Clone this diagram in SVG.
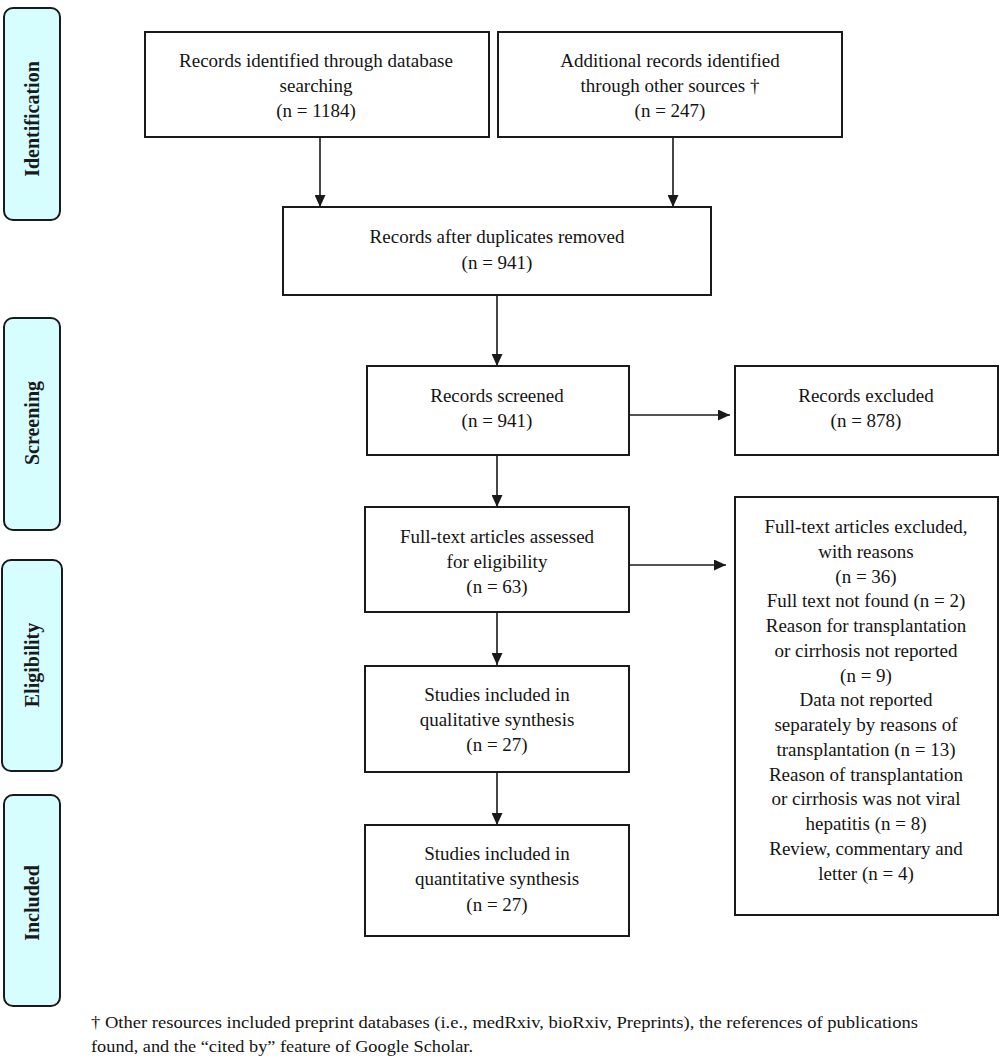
<svg xmlns="http://www.w3.org/2000/svg" width="1000" height="1061" viewBox="0 0 1000 1061">
<defs>
<style>
.box{fill:#fff;stroke:#1a1a1a;stroke-width:2}
.side{fill:#d6fdff;stroke:#1a1a1a;stroke-width:2}
.t{font-family:"Liberation Serif","DejaVu Serif",serif;font-size:19px;fill:#141414;text-anchor:middle}
.st{font-family:"Liberation Serif","DejaVu Serif",serif;font-size:20px;font-weight:bold;fill:#1a1a1a;text-anchor:middle}
.fn{font-family:"Liberation Serif","DejaVu Serif",serif;font-size:17px;fill:#141414}
.c{stroke:#1a1a1a;stroke-width:1.6;fill:none;marker-end:url(#ah)}
</style>
<marker id="ah" viewBox="0 0 10 10" refX="10" refY="5" markerWidth="12" markerHeight="11" markerUnits="userSpaceOnUse" orient="auto" preserveAspectRatio="none">
<path d="M0,0 L10,5 L0,10 Z" fill="#1a1a1a"/>
</marker>
</defs>
<rect width="1000" height="1061" fill="#fff"/>

<g id="side-identification"><rect class="side" x="4" y="8" width="56" height="212" rx="9"/><text class="st" transform="translate(39,119) rotate(-90)">Identification</text></g>
<g id="side-screening"><rect class="side" x="4" y="318" width="56" height="212" rx="9"/><text class="st" transform="translate(39,423) rotate(-90)">Screening</text></g>
<g id="side-eligibility"><rect class="side" x="2" y="560" width="60" height="211" rx="9"/><text class="st" transform="translate(39,665) rotate(-90)">Eligibility</text></g>
<g id="side-included"><rect class="side" x="4" y="795" width="56" height="211" rx="9"/><text class="st" transform="translate(39,903) rotate(-90)">Included</text></g>

<g id="connectors">
<line class="c" x1="320" y1="137" x2="320" y2="207"/>
<line class="c" x1="673" y1="137" x2="673" y2="207"/>
<line class="c" x1="497" y1="295" x2="497" y2="366"/>
<line class="c" x1="629" y1="415" x2="730" y2="415"/>
<line class="c" x1="497" y1="455" x2="497" y2="507"/>
<line class="c" x1="629" y1="565" x2="726" y2="565"/>
<line class="c" x1="497" y1="612" x2="497" y2="665"/>
<line class="c" x1="497" y1="772" x2="497" y2="825"/>
</g>

<g id="n-database"><rect class="box" x="145" y="32" width="344" height="105"/>
<text class="t" x="316" y="67">Records identified through database</text>
<text class="t" x="316" y="92">searching</text>
<text class="t" x="316" y="117">(n = 1184)</text></g>

<g id="n-other"><rect class="box" x="498" y="32" width="344" height="105"/>
<text class="t" x="670" y="67">Additional records identified</text>
<text class="t" x="670" y="92">through other sources †</text>
<text class="t" x="670" y="117">(n = 247)</text></g>

<g id="n-dup"><rect class="box" x="283" y="207" width="428" height="88"/>
<text class="t" x="497" y="243">Records after duplicates removed</text>
<text class="t" x="497" y="269">(n = 941)</text></g>

<g id="n-screened"><rect class="box" x="367" y="366" width="262" height="89"/>
<text class="t" x="497" y="402">Records screened</text>
<text class="t" x="497" y="427">(n = 941)</text></g>

<g id="n-excluded"><rect class="box" x="735" y="366" width="263" height="89"/>
<text class="t" x="866" y="402">Records excluded</text>
<text class="t" x="866" y="427">(n = 878)</text></g>

<g id="n-fulltext"><rect class="box" x="365" y="507" width="264" height="105"/>
<text class="t" x="497" y="543">Full-text articles assessed</text>
<text class="t" x="497" y="568">for eligibility</text>
<text class="t" x="497" y="593">(n = 63)</text></g>

<g id="n-ftexcluded"><rect class="box" x="735" y="497" width="263" height="418"/>
<text class="t" x="866" y="533">Full-text articles excluded,</text>
<text class="t" x="866" y="558">with reasons</text>
<text class="t" x="866" y="583">(n = 36)</text>
<text class="t" x="866" y="607">Full text not found (n = 2)</text>
<text class="t" x="866" y="632">Reason for transplantation</text>
<text class="t" x="866" y="657">or cirrhosis not reported</text>
<text class="t" x="866" y="682">(n = 9)</text>
<text class="t" x="866" y="706">Data not reported</text>
<text class="t" x="866" y="731">separately by reasons of</text>
<text class="t" x="866" y="756">transplantation (n = 13)</text>
<text class="t" x="866" y="781">Reason of transplantation</text>
<text class="t" x="866" y="805">or cirrhosis was not viral</text>
<text class="t" x="866" y="830">hepatitis (n = 8)</text>
<text class="t" x="866" y="855">Review, commentary and</text>
<text class="t" x="866" y="880">letter (n = 4)</text></g>

<g id="n-qual"><rect class="box" x="365" y="666" width="264" height="106"/>
<text class="t" x="497" y="701">Studies included in</text>
<text class="t" x="497" y="726">qualitative synthesis</text>
<text class="t" x="497" y="751">(n = 27)</text></g>

<g id="n-quant"><rect class="box" x="365" y="825" width="264" height="111"/>
<text class="t" x="497" y="860">Studies included in</text>
<text class="t" x="497" y="885">quantitative synthesis</text>
<text class="t" x="497" y="911">(n = 27)</text></g>

<g id="footnote">
<text class="fn" x="91" y="1028" textLength="827" lengthAdjust="spacingAndGlyphs">† Other resources included preprint databases (i.e., medRxiv, bioRxiv, Preprints), the references of publications</text>
<text class="fn" x="91" y="1052" textLength="382" lengthAdjust="spacingAndGlyphs">found, and the “cited by” feature of Google Scholar.</text>
</g>
</svg>
